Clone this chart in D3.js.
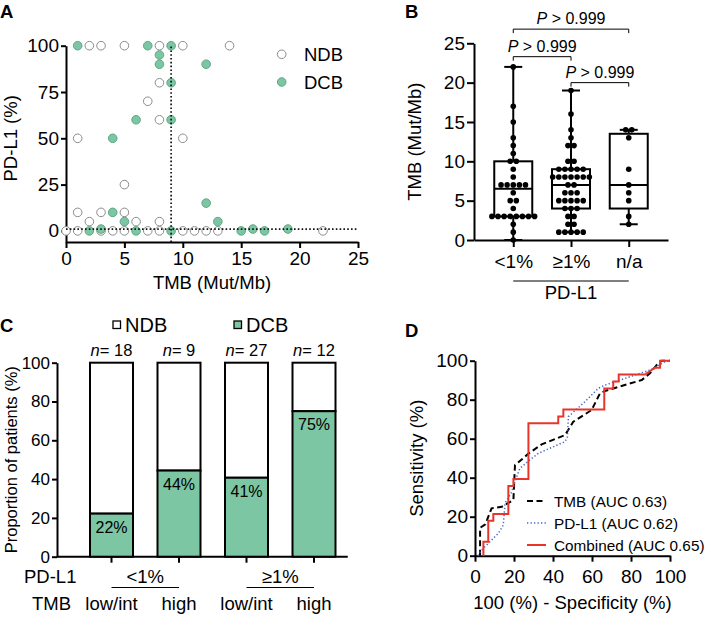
<!DOCTYPE html>
<html><head><meta charset="utf-8">
<script src="https://cdn.jsdelivr.net/npm/d3@7"></script>
<style>
body{margin:0;background:#fff;}
svg{font-family:"Liberation Sans",Arial,Helvetica,sans-serif;}
.axis path,.axis line{stroke:#000;stroke-width:2;}
.axis text{fill:#000;}
</style></head><body>
<svg id="c" width="709" height="618"></svg>
<script>
// ---------- Panel A data ----------
const tmbNDB  = [2,3,5,8,10,14, 8, 7, 8, 1,10, 5, 1,3,5, 2,6,8, 0,1,3,4,5,7,8,10,11,12,13,22];
const pdl1NDB = [100,100,100,100,100,100, 80, 70, 60, 50,50, 25, 10,10,10, 5,5,5, 0,0,0,0,0,0,0,0,0,0,0,0];
const tmbDCB  = [1,7,9, 8, 8,12, 9, 6,9, 4, 12, 4, 5,13, 3,16,19, 2,6,9,15,17];
const pdl1DCB = [100,100,100, 95, 90,90, 80, 60,60, 50, 15, 10, 5,5, 1,1,1, 0,0,0,0,0];
const tmbCutoff = 9, pdl1Cutoff = 1;
const ticksA_x = [0,5,10,15,20,25];
const ticksA_y = [0,25,50,75,100];
// ---------- Panel B data ----------
const groupsB = ["<1%","≥1%","n/a"];
const tmbNeg = [0,1,2,3,3,3,3,3,3,3,3,4,5,5,6,7,7,7,7,7,8,9,10,10,11,12,13,15,17,22];
const tmbPos = [1,1,1,1,1,2,2,3,3,4,4,4,5,5,5,5,5,6,6,6,7,7,8,8,8,8,8,8,8,9,9,9,9,9,10,10,12,12,13,14,16,19];
const tmbNA  = [2,3,5,6,7,9,13,14,14];
const compB  = [["<1%","n/a"],["<1%","≥1%"],["≥1%","n/a"]];
const pTextB = ["> 0.999","> 0.999","> 0.999"];
const ticksB_y = [0,5,10,15,20,25];
// ---------- Panel C data ----------
const catsC   = ["neg-low","neg-high","pos-low","pos-high"];
const dcbPct  = [22.2,44.4,40.7,75];
const nC      = [18,9,27,12];
const tmbLabC = ["low/int","high","low/int","high"];
const pdlLabC = ["<1%","≥1%"];
const ticksC_y = [0,20,40,60,80,100];
// ---------- Panel D data ----------
const rocTMB = [[2.6,0],[2.6,14.3],[5.3,16.1],[8.5,24.3],[13.7,25.1],[19.7,28.6],[20.5,46.4],[27.6,52.5],[34.2,57.1],[46.2,61.9],[50.4,68.7],[59.8,74.7],[64.1,83.3],[66.7,84.5],[85.5,90.1],[89.7,93.5],[93.2,97.8],[95.7,100],[100,100]];
const rocPDL1 = [[1.5,0],[3,2.5],[12,11.5],[14.5,15.7],[15.4,26.9],[18.5,32],[21.4,40.5],[23,44.8],[29.1,49.9],[32.5,52.5],[46.2,58.5],[47.4,61],[47.9,71.3],[56.4,79],[63.2,85.8],[66.7,87.5],[89.7,95.2],[98.3,100],[100,100]];
const rocComb = [[4.3,0],[4.3,7.1],[6.8,7.1],[6.8,17.9],[9.4,17.9],[9.4,21.4],[17.1,21.4],[17.1,35.7],[19.7,35.7],[19.7,39.3],[27.4,39.3],[27.4,67.9],[42.7,67.9],[42.7,71.4],[45.3,71.4],[45.3,75],[66.3,75],[66.3,85.7],[70.9,85.7],[70.9,89.3],[73.7,89.3],[73.7,92.9],[87.2,92.9],[92.3,96.4],[94.9,96.4],[94.9,100],[100,100]];
const rocNames = ["TMB (AUC 0.63)","PD-L1 (AUC 0.62)","Combined (AUC 0.65)"];
const ticksD = [0,20,40,60,80,100];

const GREEN = "#7cc6a3", GREEN_S = "#5ea886";
const svg = d3.select("#c");
const FF = '"Liberation Sans",Arial,Helvetica,sans-serif';
function styleAxis(g, fs){ g.attr("font-family", FF).attr("font-size", fs); }

// panel letters
[["A",0,18],["B",405,18],["C",0,332],["D",405,337]].forEach(([t,x,y])=>{
  svg.append("text").attr("x",x).attr("y",y).attr("font-weight","bold").attr("font-size",18.5).text(t);
});

// ================= Panel A =================
const xA = d3.scaleLinear().domain([0,25]).range([66,358]);
const yA = d3.scaleLinear().domain([-6,100]).range([242,45.7]);
const gA = svg.append("g");
gA.append("g").attr("class","axis").attr("transform","translate(0,242)")
  .call(d3.axisBottom(xA).tickValues(ticksA_x).tickSize(6).tickPadding(4).tickSizeOuter(0)).call(styleAxis,19);
gA.append("g").attr("class","axis").attr("transform","translate(66,0)")
  .call(d3.axisLeft(yA).tickValues(ticksA_y).tickSize(5).tickPadding(2).tickSizeOuter(0)).call(styleAxis,19);
gA.selectAll("circle.ndb").data(tmbNDB).join("circle").attr("class","ndb")
  .attr("cx",d=>xA(d)).attr("cy",(d,i)=>yA(pdl1NDB[i])).attr("r",4.3)
  .attr("fill","#fff").attr("stroke","#8c8c8c").attr("stroke-width",1);
gA.selectAll("circle.dcb").data(tmbDCB).join("circle").attr("class","dcb")
  .attr("cx",d=>xA(d)).attr("cy",(d,i)=>yA(pdl1DCB[i])).attr("r",4.3)
  .attr("fill",GREEN).attr("stroke",GREEN_S).attr("stroke-width",1);
gA.append("line").attr("x1",xA(tmbCutoff)).attr("x2",xA(tmbCutoff)).attr("y1",yA(-6)).attr("y2",yA(100))
  .attr("stroke","#111").attr("stroke-width",1.7).attr("stroke-dasharray","1.6,2.2");
gA.append("line").attr("x1",xA(0)).attr("x2",xA(25)).attr("y1",yA(pdl1Cutoff)).attr("y2",yA(pdl1Cutoff))
  .attr("stroke","#111").attr("stroke-width",1.7).attr("stroke-dasharray","1.6,2.2");
gA.append("text").attr("x",(xA(0)+xA(25))/2).attr("y",289).attr("text-anchor","middle").attr("font-size",18.5).text("TMB (Mut/Mb)");
gA.append("text").attr("transform",`translate(17,${(yA(0)+yA(100))/2}) rotate(-90)`).attr("text-anchor","middle").attr("font-size",18.5).text("PD-L1 (%)");
// legend A
[["NDB","#fff","#8c8c8c",54.3],["DCB",GREEN,GREEN_S,82]].forEach(([t,f,s,y])=>{
  gA.append("circle").attr("cx",281.7).attr("cy",y).attr("r",4.3).attr("fill",f).attr("stroke",s);
  gA.append("text").attr("x",304).attr("y",y+6.5).attr("font-size",18.5).text(t);
});

// ================= Panel B =================
const xB = d3.scalePoint().domain(groupsB).range([474,668]).padding(0.68);
const yB = d3.scaleLinear().domain([0,25]).range([240,43.3]);
const gB = svg.append("g");
gB.append("g").attr("class","axis").attr("transform","translate(0,240)")
  .call(d3.axisBottom(xB).tickSize(7).tickPadding(8).tickSizeOuter(0)).call(styleAxis,19);
gB.append("g").attr("class","axis").attr("transform","translate(474,0)")
  .call(d3.axisLeft(yB).tickValues(ticksB_y).tickSize(7).tickPadding(2).tickSizeOuter(0)).call(styleAxis,19);
gB.selectAll(".axis path,.axis line").attr("stroke-width",1.8);
function gpQ(s,p){const n=s.length,pos=(n+1)*p,lo=Math.floor(pos),hi=Math.ceil(pos);
  if(lo<1)return s[0]; if(hi>n)return s[n-1]; return s[lo-1]+(pos-lo)*(s[hi-1]-s[lo-1]);}
const dataB = [tmbNeg,tmbPos,tmbNA];
const bw = 38, cap = 18, sp = 6.1;
dataB.forEach((vals,gi)=>{
  const s = vals.slice().sort((a,b)=>a-b);
  const xc = xB(groupsB[gi]);
  const q1=gpQ(s,0.25), med=gpQ(s,0.5), q3=gpQ(s,0.75), mn=s[0], mx=s[s.length-1];
  const g = gB.append("g").attr("stroke","#000").attr("stroke-width",2).attr("fill","none");
  g.append("line").attr("x1",xc).attr("x2",xc).attr("y1",yB(mn)).attr("y2",yB(q1));
  g.append("line").attr("x1",xc).attr("x2",xc).attr("y1",yB(q3)).attr("y2",yB(mx));
  g.append("line").attr("x1",xc-cap/2).attr("x2",xc+cap/2).attr("y1",yB(mn)).attr("y2",yB(mn));
  g.append("line").attr("x1",xc-cap/2).attr("x2",xc+cap/2).attr("y1",yB(mx)).attr("y2",yB(mx));
  g.append("rect").attr("x",xc-bw/2).attr("width",bw).attr("y",yB(q3)).attr("height",yB(q1)-yB(q3));
  g.append("line").attr("x1",xc-bw/2).attr("x2",xc+bw/2).attr("y1",yB(med)).attr("y2",yB(med));
  const counts = d3.rollup(s,v=>v.length,d=>d);
  const pts=[];
  counts.forEach((k,v)=>{for(let i=0;i<k;i++)pts.push({x:xc+(i-(k-1)/2)*sp,y:yB(v)});});
  gB.selectAll(null).data(pts).join("circle").attr("cx",d=>d.x).attr("cy",d=>d.y).attr("r",2.8).attr("fill","#000");
});
const levelsB = [26.8,23.3,20.0];
compB.forEach(([a,b],i)=>{
  const y=yB(levelsB[i]), x1=xB(a), x2=xB(b);
  gB.append("path").attr("d",`M${x1},${y+4}V${y}H${x2}V${y+4}`).attr("fill","none").attr("stroke","#000").attr("stroke-width",1);
  const t=gB.append("text").attr("x",(x1+x2)/2).attr("y",y-5).attr("text-anchor","middle").attr("font-size",16);
  t.append("tspan").attr("font-style","italic").text("P");
  t.append("tspan").text(" "+pTextB[i]);
});
gB.append("line").attr("x1",xB(groupsB[0])).attr("x2",xB(groupsB[2])).attr("y1",281).attr("y2",281).attr("stroke","#000").attr("stroke-width",1);
gB.append("text").attr("x",xB(groupsB[1])).attr("y",299).attr("text-anchor","middle").attr("font-size",18.5).text("PD-L1");
gB.append("text").attr("transform",`translate(421,${(yB(0)+yB(25))/2}) rotate(-90)`).attr("text-anchor","middle").attr("font-size",18.5).text("TMB (Mut/Mb)");

// ================= Panel C =================
const xC = d3.scaleBand().domain(catsC).range([77.75,347.75]).paddingInner(0.363).paddingOuter(0.1815);
const yC = d3.scaleLinear().domain([0,100]).range([556.7,362.7]);
const gC = svg.append("g");
const axC = gC.append("g").attr("class","axis").attr("transform","translate(0,556.7)")
  .call(d3.axisBottom(xC).tickSize(6).tickFormat("").tickSizeOuter(0));
axC.select("path.domain").attr("d",`M57,0H${xC.range()[1]}`);
gC.append("g").attr("class","axis").attr("transform","translate(57,0)")
  .call(d3.axisLeft(yC).tickValues(ticksC_y).tickSize(5).tickPadding(2).tickSizeOuter(0)).call(styleAxis,17);
catsC.forEach((c,i)=>{
  const x=xC(c), w=xC.bandwidth();
  gC.append("rect").attr("x",x).attr("width",w).attr("y",yC(100)).attr("height",yC(dcbPct[i])-yC(100))
    .attr("fill","#fff").attr("stroke","#000").attr("stroke-width",2);
  gC.append("rect").attr("x",x).attr("width",w).attr("y",yC(dcbPct[i])).attr("height",yC(0)-yC(dcbPct[i]))
    .attr("fill",GREEN).attr("stroke","#000").attr("stroke-width",2);
  gC.append("text").attr("x",x+w/2).attr("y",yC(dcbPct[i])+19).attr("text-anchor","middle").attr("font-size",16).text(Math.round(dcbPct[i])+"%");
  const t=gC.append("text").attr("x",x+w/2).attr("y",356).attr("text-anchor","middle").attr("font-size",16.5);
  t.append("tspan").attr("font-style","italic").text("n");
  t.append("tspan").text("= "+nC[i]);
  gC.append("text").attr("x",x+w/2).attr("y",610).attr("text-anchor","middle").attr("font-size",18.5).text(tmbLabC[i]);
});
pdlLabC.forEach((l,j)=>{
  const x1=xC(catsC[2*j])+xC.bandwidth()/2, x2=xC(catsC[2*j+1])+xC.bandwidth()/2;
  gC.append("text").attr("x",(x1+x2)/2).attr("y",583).attr("text-anchor","middle").attr("font-size",18.5).text(l);
  gC.append("line").attr("x1",x1).attr("x2",x2).attr("y1",587.5).attr("y2",587.5).attr("stroke","#000").attr("stroke-width",1);
});
gC.append("text").attr("x",24).attr("y",583).attr("font-size",18.5).text("PD-L1");
gC.append("text").attr("x",32).attr("y",610).attr("font-size",18.5).text("TMB");
gC.append("text").attr("transform",`translate(17,${(yC(0)+yC(100))/2}) rotate(-90)`).attr("text-anchor","middle").attr("font-size",16.5).text("Proportion of patients (%)");
[["NDB","#fff",113],["DCB",GREEN,234]].forEach(([t,f,x])=>{
  gC.append("rect").attr("x",x).attr("y",321).attr("width",7.5).attr("height",7.5).attr("fill",f).attr("stroke","#000").attr("stroke-width",1.3);
  gC.append("text").attr("x",x+12).attr("y",331.5).attr("font-size",20).text(t);
});

// ================= Panel D =================
const xD = d3.scaleLinear().domain([0,100]).range([475,670]);
const yD = d3.scaleLinear().domain([0,100]).range([555.7,360.7]);
const gD = svg.append("g");
gD.append("g").attr("class","axis").attr("transform","translate(0,555.7)")
  .call(d3.axisBottom(xD).tickValues(ticksD).tickSize(6).tickPadding(8).tickSizeOuter(0)).call(styleAxis,19);
gD.append("g").attr("class","axis").attr("transform","translate(475,0)")
  .call(d3.axisLeft(yD).tickValues(ticksD).tickSize(5).tickPadding(2).tickSizeOuter(0)).call(styleAxis,19);
const lineD = d3.line().x(d=>xD(d[0])).y(d=>yD(d[1]));
const stylesD = [
  {data:rocTMB, stroke:"#000", w:2, dash:"6,3.5"},
  {data:rocPDL1, stroke:"#4a64c8", w:1.5, dash:"1.3,2.2"},
  {data:rocComb, stroke:"#e8352b", w:2, dash:null}
];
stylesD.forEach(s=>{
  gD.append("path").attr("d",lineD(s.data)).attr("fill","none").attr("stroke",s.stroke).attr("stroke-width",s.w).attr("stroke-dasharray",s.dash);
});
stylesD.forEach((s,i)=>{
  const y=[501,523,545][i];
  gD.append("line").attr("x1",527).attr("x2",546).attr("y1",y).attr("y2",y).attr("stroke",s.stroke).attr("stroke-width",s.w).attr("stroke-dasharray",s.dash);
  gD.append("text").attr("x",554).attr("y",y+5.5).attr("font-size",15.3).text(rocNames[i]);
});
gD.append("text").attr("x",(xD(0)+xD(100))/2).attr("y",609).attr("text-anchor","middle").attr("font-size",18.5).text("100 (%) - Specificity (%)");
gD.append("text").attr("transform",`translate(423,${(yD(0)+yD(100))/2}) rotate(-90)`).attr("text-anchor","middle").attr("font-size",18.5).text("Sensitivity (%)");
</script></body></html>
